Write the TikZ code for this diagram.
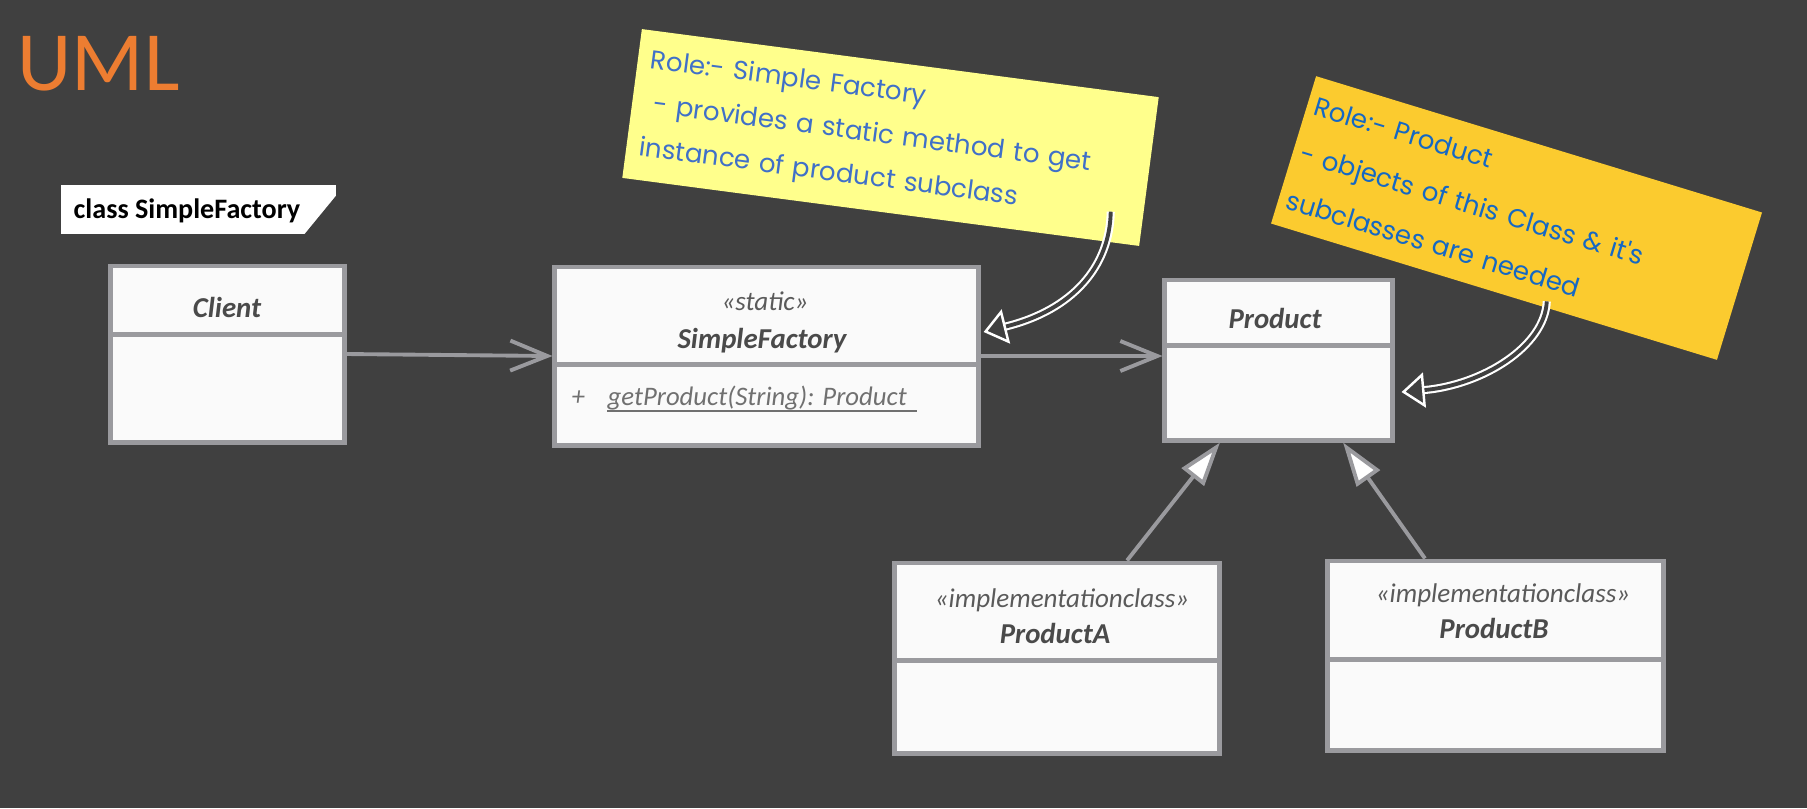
\documentclass[tikz,border=0pt]{standalone}
\usepackage{fontspec}
\setmainfont{Carlito}
\newfontfamily\notefont{Poppins}
\usetikzlibrary{arrows.meta,calc,positioning}
\definecolor{bgc}{HTML}{404040}
\definecolor{umlorange}{HTML}{ED7D31}
\definecolor{boxline}{HTML}{9A9A9E}
\definecolor{boxfill}{HTML}{FAFAFA}
\definecolor{nametext}{HTML}{4A4A4A}
\definecolor{stereotext}{HTML}{5A5A5A}
\definecolor{optext}{HTML}{707070}
\definecolor{noteyellow}{HTML}{FFFF8C}
\definecolor{noteorange}{HTML}{FBCB2F}
\definecolor{yellowink}{HTML}{4070C8}
\definecolor{orangeink}{HTML}{1568C4}
\begin{document}
\begin{tikzpicture}[
  x=0.01cm, y=-0.01cm,
  classbox/.style={draw=boxline, fill=boxfill, line width=1.4pt, inner sep=0pt},
  divider/.style={draw=boxline, line width=1.2pt},
  classname/.style={anchor=base, inner sep=0pt, text=nametext,
    font=\fontsize{8.2}{10}\selectfont\bfseries\itshape},
  stereo/.style={anchor=base, inner sep=0pt, text=stereotext,
    font=\fontsize{7.7}{9}\selectfont\itshape},
  opfont/.style={anchor=base west, inner sep=0pt, text=optext,
    font=\fontsize{7.6}{9}\selectfont\itshape},
  assoc/.style={draw=boxline, line width=1.1pt, line cap=round,
    -{Straight Barb[length=0.37cm, width=0.3cm]}},
  general/.style={draw=boxline, line width=1.1pt,
    -{Triangle[fill=white, length=0.44cm, width=0.28cm]}},
  note/.style={align=left, inner ysep=0pt, font=\notefont\fontsize{7.4}{12.5}\selectfont},
  callout/.style={draw=white, line width=0.6pt, double=bgc, double distance=1.1pt,
    -{Triangle[open, length=0.23cm, width=0.35cm, line width=0.7pt]}}
]
\fill[bgc] (0,0) rectangle (1807,808);
\useasboundingbox (0,0) rectangle (1807,808);

% title and diagram frame
\node[anchor=base west, inner sep=0pt, text=umlorange, font=\fontsize{24}{28}\selectfont] (title) at (17,90) {UML};
\draw[black!75, line width=0.5pt] (60,808) -- (60,184) -- (1720,184) -- (1720,808);
\filldraw[fill=white, draw=black!75, line width=0.5pt] (60,184) -- (337,184) -- (337,196) -- (305,235) -- (60,235) -- cycle;
\node[anchor=base west, inner sep=0pt, font=\fontsize{8}{10}\selectfont\bfseries] (frametitle) at (73,218) {class SimpleFactory};

% classes
\node[classbox, minimum width=2.33cm, minimum height=1.76cm] (client) at (227.5,354) {};
\draw[divider] ([yshift=-0.71cm]client.north west) -- ([yshift=-0.71cm]client.north east);
\node[classname] (clientname) at (227,317) {Client};

\node[classbox, minimum width=4.23cm, minimum height=1.78cm] (sfactory) at (766.5,356) {};
\draw[divider] ([yshift=-1.0cm]sfactory.north west) -- ([yshift=-1.0cm]sfactory.north east);
\node[stereo] (sfstereo) at (765,310) {«static»};
\node[classname] (sfname) at (762,348) {SimpleFactory};
\node[opfont] (opvis) at (571,405) {+};
\node[opfont] (getproduct) at (607,405) {getProduct(String): Product};
\draw[optext, line width=0.5pt] ([yshift=-0.06cm]getproduct.base west) -- ([yshift=-0.06cm, xshift=0.1cm]getproduct.base east);

\node[classbox, minimum width=2.27cm, minimum height=1.6cm] (product) at (1278.5,360) {};
\draw[divider] ([yshift=-0.68cm]product.north west) -- ([yshift=-0.68cm]product.north east);
\node[classname] (productname) at (1275,328) {Product};

\node[classbox, minimum width=3.24cm, minimum height=1.9cm] (producta) at (1057,658) {};
\draw[divider] ([yshift=-1.0cm]producta.north west) -- ([yshift=-1.0cm]producta.north east);
\node[stereo] (pastereo) at (1062,607) {«implementationclass»};
\node[classname] (paname) at (1055,643) {ProductA};

\node[classbox, minimum width=3.35cm, minimum height=1.89cm] (productb) at (1495.5,655.5) {};
\draw[divider] ([yshift=-1.01cm]productb.north west) -- ([yshift=-1.01cm]productb.north east);
\node[stereo] (pbstereo) at (1503,602) {«implementationclass»};
\node[classname] (pbname) at (1494,638) {ProductB};

% relations
\draw[assoc] (client.east) -- (sfactory.west);
\draw[assoc] (sfactory.east) -- (sfactory.east -| product.west);
\draw[general] ([xshift=0.7cm]producta.north) -- ([xshift=-0.585cm]product.south);
\draw[general] ([xshift=-0.705cm]productb.north) -- ([xshift=0.645cm]product.south);

% sticky notes
\node[note, fill=noteyellow, text=yellowink, rotate=-7.5, inner xsep=0.13cm,
  text width=4.95cm, minimum height=1.5cm] (ynote) at (890.5,137.5)
  {Role:- Simple Factory\\\ - provides a static method to get\\instance of product subclass};
\node[note, fill=noteorange, text=orangeink, rotate=-17, inner xsep=0.08cm,
  text width=4.5cm, minimum height=1.54cm,
  font=\notefont\fontsize{7.4}{13.9}\selectfont] (onote) at (1516.5,218)
  {Role:- Product\\- objects of this Class \& it's\\subclasses are needed};

\coordinate (ystart) at ($(ynote.south east)+(-29,-35)$);
\coordinate (ostart) at ($(onote.south)+(53,9)$);
\draw[callout] (ystart) .. controls +(-1,55) and +(89,-22) .. ([shift={(0.03cm,0.24cm)}]sfactory.east);
\draw[callout] (ostart) .. controls +(-2,45) and +(81,-7) .. ([shift={(0.07cm,-0.32cm)}]product.east);
\end{tikzpicture}
\end{document}
